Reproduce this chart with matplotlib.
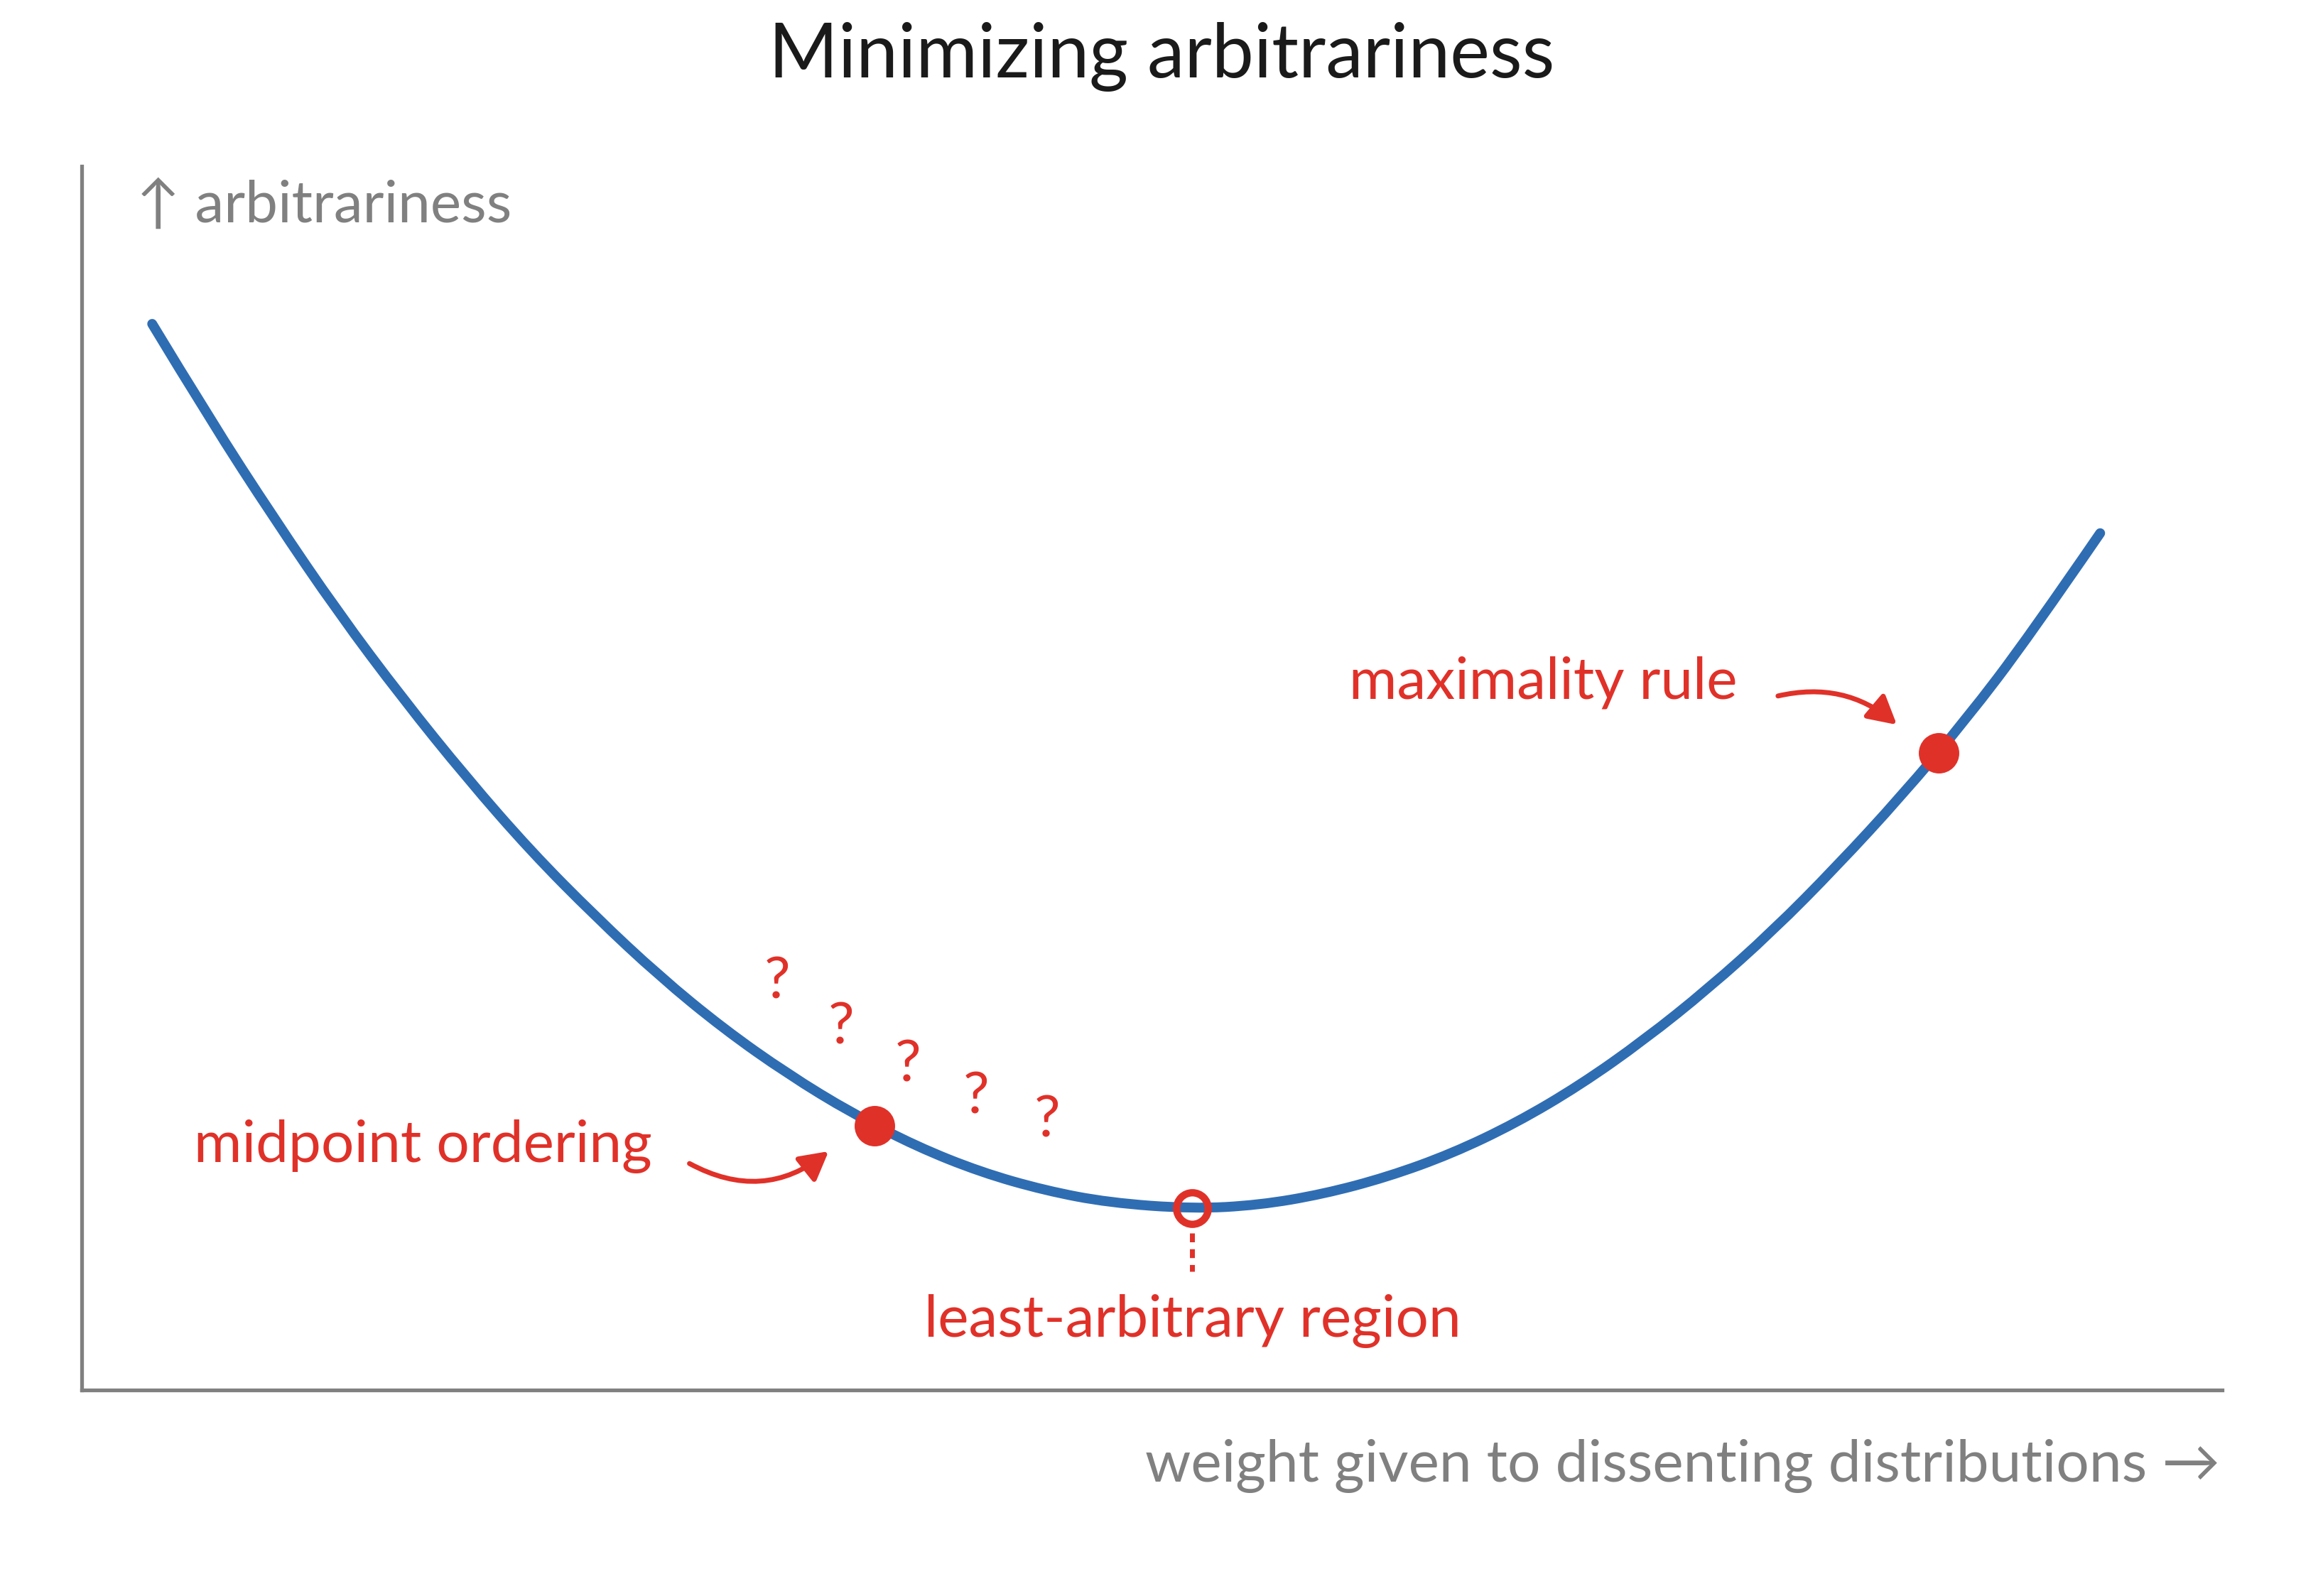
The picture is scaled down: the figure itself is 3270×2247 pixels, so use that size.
import matplotlib
matplotlib.use("Agg")
import matplotlib.pyplot as plt
from matplotlib.patches import FancyArrowPatch, PathPatch
from matplotlib.path import Path

plt.rcParams["font.family"] = ["Lato", "DejaVu Sans"]

BLUE = "#2f6db3"
RED = "#e03129"
GRAY = "#808080"
INK = "#1a1a1a"

# curve (x: weight 0-100, y: arbitrariness 0-100)
curve_x = [3.3, 6, 9, 12, 15, 18, 21, 24, 27, 30, 33, 36, 39, 42, 45, 48,
           51.9, 55, 58, 61, 64, 67, 70, 73, 76, 79, 82, 85, 88, 91, 94.3]
curve_y = [87.1, 79.3, 71.2, 63.5, 56.5, 50.0, 44.0, 38.7, 33.8, 29.5, 25.8,
           22.6, 19.9, 17.8, 16.3, 15.3, 14.8, 15.1, 16.0, 17.4, 19.3, 21.8,
           24.9, 28.6, 32.8, 37.5, 42.8, 48.5, 54.7, 61.6, 70.0]

# named points
dots_x = [37.05, 86.74]          # midpoint ordering, maximality rule
dots_y = [21.56, 52.06]
best_x, best_y = 51.89, 14.83    # least-arbitrary region
guide_y = [12.83, 9.7]

# question marks
qx = [32.5, 35.5, 38.6, 41.8, 45.1]
qy = [32.0, 28.3, 25.2, 22.6, 20.7]

fig = plt.figure(figsize=(16.35, 11.235), dpi=200)
ax = fig.add_axes([0.0351, 0.1291, 0.9215, 0.7669])
ax.set_xlim(0, 100)
ax.set_ylim(0, 100)
ax.set_xticks([])
ax.set_yticks([])
for s in ("top", "right"):
    ax.spines[s].set_visible(False)
for s in ("left", "bottom"):
    ax.spines[s].set_color(GRAY)
    ax.spines[s].set_linewidth(1.9)

# smooth the read points with quadratic segments through the midpoints
pts = list(zip(curve_x, curve_y))
verts = [pts[0]]
codes = [Path.MOVETO]
for i in range(1, len(pts) - 1):
    a, b = pts[i], pts[i + 1]
    end = b if i == len(pts) - 2 else ((a[0] + b[0]) / 2, (a[1] + b[1]) / 2)
    verts += [a, end]
    codes += [Path.CURVE3, Path.CURVE3]
ax.add_patch(PathPatch(Path(verts, codes), fill=False, edgecolor=BLUE, lw=5,
                       capstyle="round", joinstyle="round", zorder=2))

ax.plot(dots_x, dots_y, "o", ms=19.5, color=RED, mec=RED, zorder=4)
ax.plot([best_x, best_x], guide_y, color=RED, lw=2.5,
        linestyle=(0, (1.8, 1.4)), zorder=3)
ax.plot([best_x], [best_y], "o", ms=16, mfc="none", mec=RED, mew=3.7,
        zorder=4)

for x, y in zip(qx, qy):
    ax.text(x, y, "?", color=RED, fontsize=29.5, ha="center", va="baseline")

ax.text(5.26, 18.6, "midpoint ordering", color=RED, fontsize=29.5,
        ha="left", va="baseline")
ax.text(59.2, 56.5, "maximality rule", color=RED, fontsize=29.5,
        ha="left", va="baseline")
ax.text(51.9, 4.36, "least-arbitrary region", color=RED, fontsize=29.5,
        ha="center", va="baseline")

def curved_arrow(tail, tip, rad):
    ax.add_patch(FancyArrowPatch(tail, tip, connectionstyle=f"arc3,rad={rad}",
                 arrowstyle="-|>,head_length=0.4,head_width=0.22",
                 mutation_scale=30, lw=2.5, color=RED, shrinkA=0, shrinkB=0,
                 capstyle="round", joinstyle="round", zorder=3))

curved_arrow((28.4, 18.5), (34.9, 19.5), 0.33)
curved_arrow((79.25, 56.7), (84.8, 54.35), -0.25)

ax.text(2.56, 95.4, "↑ arbitrariness", color=GRAY, fontsize=29.5,
        ha="left", va="baseline")
ax.text(99.9, -7.5, "weight given to dissenting distributions →", color=GRAY,
        fontsize=29.5, ha="right", va="baseline", clip_on=False)

fig.text(0.5, 0.9517, "Minimizing arbitrariness", color=INK, fontsize=38,
         ha="center", va="baseline")

fig.savefig("out.png", dpi=200, facecolor="white")
